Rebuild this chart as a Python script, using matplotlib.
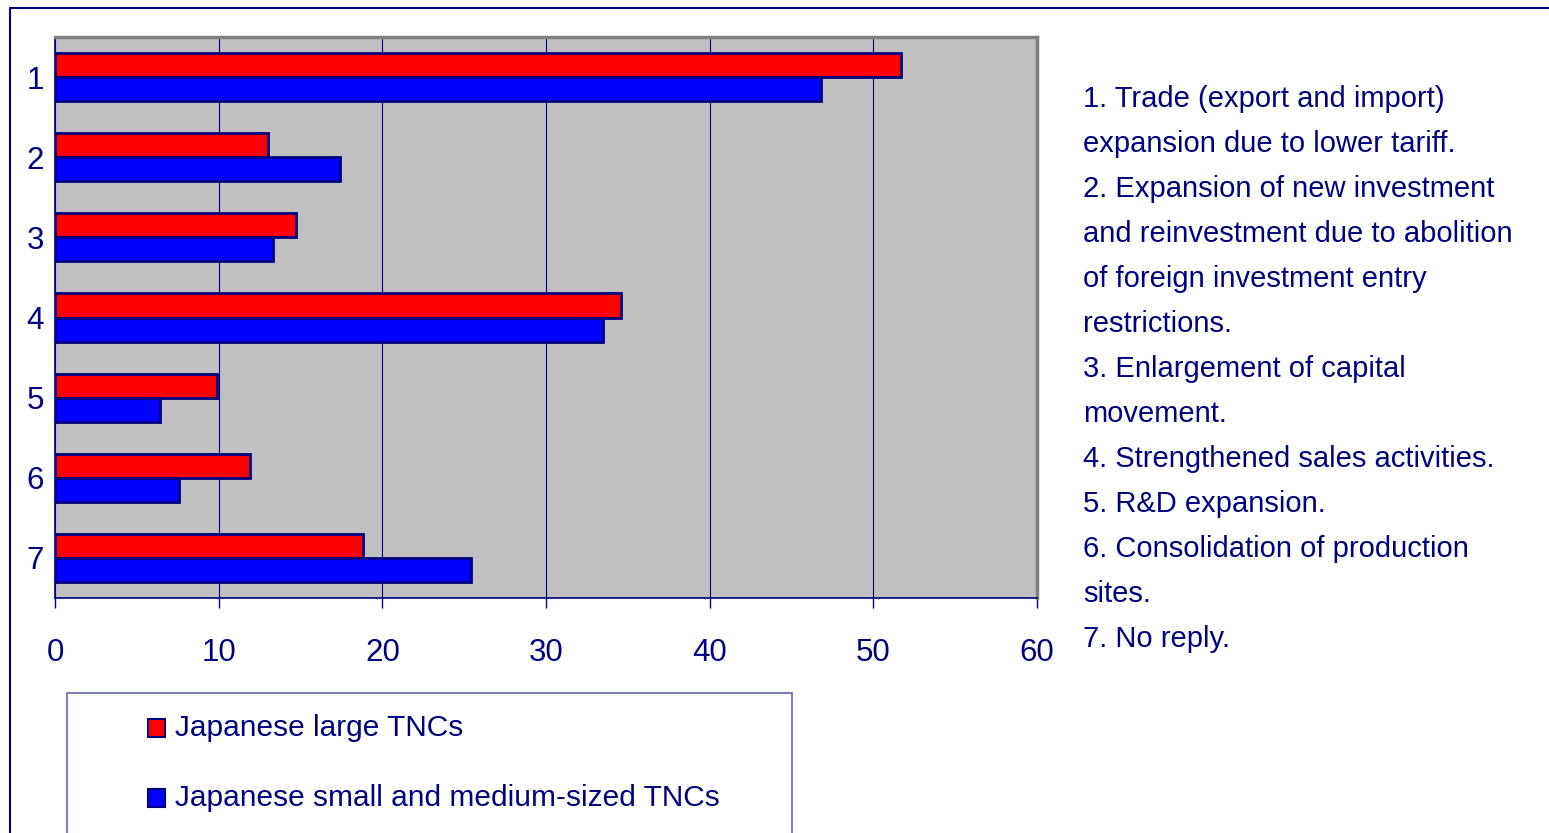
import matplotlib
matplotlib.use("Agg")
import matplotlib.pyplot as plt
from matplotlib.patches import Rectangle
import numpy as np

plt.rcParams['font.family'] = ['Liberation Sans', 'DejaVu Sans']

categories = ["1", "2", "3", "4", "5", "6", "7"]
large_tncs = [51.7, 13.0, 14.7, 34.6, 9.9, 11.9, 18.8]
sme_tncs = [46.8, 17.4, 13.3, 33.5, 6.4, 7.6, 25.4]
series_names = ["Japanese large TNCs", "Japanese small and medium-sized TNCs"]
x_ticks = [0, 10, 20, 30, 40, 50, 60]
notes = [
    "1. Trade (export and import)",
    "expansion due to lower tariff.",
    "2. Expansion of new investment",
    "and reinvestment due to abolition",
    "of foreign investment entry",
    "restrictions.",
    "3. Enlargement of capital",
    "movement.",
    "4. Strengthened sales activities.",
    "5. R&D expansion.",
    "6. Consolidation of production",
    "sites.",
    "7. No reply.",
]

NAVY = "#000080"
W, H = 1549, 833
fig = plt.figure(figsize=(W / 100, H / 100), dpi=100)
fig.patch.set_facecolor("white")

# outer chart frame (runs off the right and bottom edges)
fig.patches.append(Rectangle((10 / W, -0.2), 1.2, 1 - 8 / H + 0.2,
                             transform=fig.transFigure, fill=False,
                             edgecolor=NAVY, linewidth=1.5))

ax = fig.add_axes([55 / W, 1 - 598 / H, (1037 - 55) / W, (598 - 37) / H])
ax.set_facecolor("#C0C0C0")

y = np.arange(len(categories))
h = 0.3
ax.barh(y - h / 2, large_tncs, height=h, color="#FF0000",
        edgecolor=NAVY, linewidth=2, zorder=3, label=series_names[0])
ax.barh(y + h / 2, sme_tncs, height=h, color="#0000FF",
        edgecolor=NAVY, linewidth=2, zorder=3, label=series_names[1])

ax.set_xlim(0, 60)
ax.set_ylim(len(categories) - 0.5, -0.5)
ax.set_xticks(x_ticks)
ax.set_yticks(y)
ax.set_yticklabels(categories)
ax.xaxis.grid(True, color=NAVY, linewidth=0.8, zorder=1)
ax.set_axisbelow(True)

ax.tick_params(axis="x", colors=NAVY, labelcolor=NAVY, labelsize=22.5,
               length=7, width=1, direction="out", pad=22)
ax.tick_params(axis="y", colors=NAVY, labelcolor=NAVY, labelsize=22.5,
               length=0, pad=8)

for side in ("top", "right"):
    ax.spines[side].set_color("#808080")
    ax.spines[side].set_linewidth(2.5)
for side in ("left", "bottom"):
    ax.spines[side].set_color(NAVY)
    ax.spines[side].set_linewidth(1.2)

# category descriptions on the right
for i, line in enumerate(notes):
    fig.text(1083 / W, 1 - (99 + 45 * i) / H, line, color=NAVY,
             fontsize=21, ha="left", va="center")

# legend box
fig.patches.append(Rectangle((67 / W, -0.1), (792 - 67) / W, 1 - 693 / H + 0.1,
                             transform=fig.transFigure, fill=False,
                             edgecolor="#6666AA", linewidth=1.2))
for i, (name, col) in enumerate(zip(series_names, ["#FF0000", "#0000FF"])):
    yc = 728 + 70 * i
    fig.patches.append(Rectangle((148 / W, 1 - (yc + 9) / H), 17 / W, 18 / H,
                                 transform=fig.transFigure, facecolor=col,
                                 edgecolor=NAVY, linewidth=1.5))
    fig.text(175 / W, 1 - yc / H, name, color=NAVY, fontsize=21.5,
             ha="left", va="center")

fig.savefig("out.png", dpi=100)
